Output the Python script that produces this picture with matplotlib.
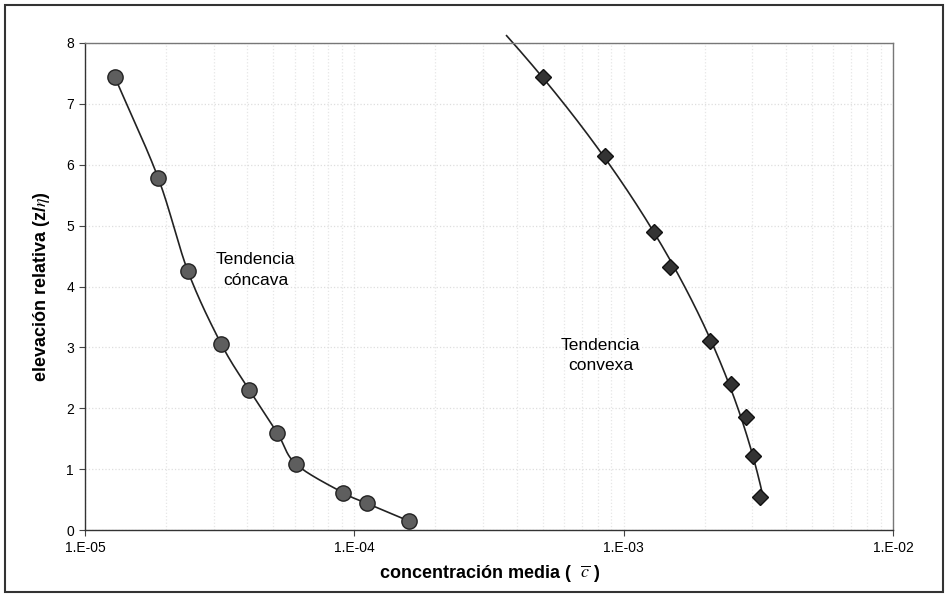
import matplotlib
matplotlib.use("Agg")
import matplotlib.pyplot as plt
import numpy as np
from matplotlib.patches import Rectangle
from matplotlib.ticker import FixedLocator, FuncFormatter, LogLocator, NullFormatter

plt.rcParams['font.family'] = ['Liberation Sans', 'DejaVu Sans']
plt.rcParams['mathtext.fontset'] = 'stix'

# concava series (circles)
c_conc = [1.29e-5, 1.87e-5, 2.41e-5, 3.2e-5, 4.07e-5, 5.18e-5, 6.08e-5, 9.1e-5, 1.11e-4, 1.59e-4]
z_conc = [7.44, 5.78, 4.25, 3.06, 2.30, 1.59, 1.08, 0.61, 0.44, 0.15]
# convexa series (diamonds)
c_conv = [5.0e-4, 8.5e-4, 1.30e-3, 1.48e-3, 2.09e-3, 2.50e-3, 2.84e-3, 3.02e-3, 3.21e-3]
z_conv = [7.44, 6.14, 4.89, 4.32, 3.10, 2.40, 1.86, 1.22, 0.54]

yticks = [0, 1, 2, 3, 4, 5, 6, 7, 8]
xticks = [1e-5, 1e-4, 1e-3, 1e-2]
xlabels = ['1.E-05', '1.E-04', '1.E-03', '1.E-02']


def smooth(cs, zs, n=30):
    # catmull-rom through the points, done in roughly screen-proportional units
    u = np.log10(cs) * 269.0
    v = np.asarray(zs) * 60.9
    P = np.column_stack([u, v])
    P = np.vstack([2 * P[0] - P[1], P, 2 * P[-1] - P[-2]])
    out = []
    t = np.linspace(0, 1, n)[:, None]
    for i in range(1, len(P) - 2):
        p0, p1, p2, p3 = P[i - 1], P[i], P[i + 1], P[i + 2]
        seg = 0.5 * ((2 * p1) + (-p0 + p2) * t + (2 * p0 - 5 * p1 + 4 * p2 - p3) * t ** 2
                     + (-p0 + 3 * p1 - 3 * p2 + p3) * t ** 3)
        out.append(seg)
    out = np.vstack(out)
    return 10 ** (out[:, 0] / 269.0), out[:, 1] / 60.9


fig = plt.figure(figsize=(9.48, 5.97), dpi=100)
ax = fig.add_axes([0.0897, 0.1122, 0.8523, 0.8158])

sx, sy = smooth(c_conc, z_conc)
ax.plot(sx, sy, color='#222222', lw=1.2, zorder=2)

# convex trend: log10(c) as quadratic in z, carried past the top of the plot
pv = np.polyfit(z_conv, np.log10(c_conv), 2)
zz2 = np.linspace(min(z_conv), 8.12, 300)
ax.plot(10 ** np.polyval(pv, zz2), zz2, color='#222222', lw=1.2, zorder=2, clip_on=False)

ax.plot(c_conc, z_conc, 'o', ms=11, mfc='#5e5e5e', mec='#222222', mew=1.0, ls='none', zorder=3)
ax.plot(c_conv, z_conv, 'D', ms=8, mfc='#333333', mec='#111111', mew=1.0, ls='none', zorder=3)

ax.set_xscale('log')
ax.set_xlim(1e-5, 1e-2)
ax.set_ylim(0, 8)
ax.xaxis.set_major_locator(FixedLocator(xticks))
ax.xaxis.set_major_formatter(FuncFormatter(lambda v, p: xlabels[xticks.index(v)] if v in xticks else ''))
ax.xaxis.set_minor_locator(LogLocator(base=10, subs=np.arange(2, 10)))
ax.xaxis.set_minor_formatter(NullFormatter())
ax.set_yticks(yticks)
ax.tick_params(axis='both', which='major', labelsize=10, direction='out', length=4, color='#444444', pad=4)
ax.tick_params(axis='x', which='minor', length=0)

ax.grid(True, which='major', axis='y', ls=':', lw=0.9, color='#dedede')
ax.grid(True, which='both', axis='x', ls=':', lw=0.9, color='#e6e6e6')

for s in ['left', 'bottom']:
    ax.spines[s].set_color('#333333')
    ax.spines[s].set_linewidth(1.0)
for s in ['top', 'right']:
    ax.spines[s].set_color('#777777')
    ax.spines[s].set_linewidth(1.0)

ax.set_ylabel(r'elevación relativa (z/$\eta$)', fontsize=13, fontweight='bold', labelpad=10)
ax.set_xlabel(r'concentración media (  $\overline{c}$ )', fontsize=13, fontweight='bold', labelpad=6)

ax.text(4.3e-5, 4.27, 'Tendencia\ncóncava', fontsize=12.5, ha='center', va='center', linespacing=1.45)
ax.text(8.2e-4, 2.87, 'Tendencia\nconvexa', fontsize=12.5, ha='center', va='center', linespacing=1.45)

fig.patches.append(Rectangle((0.005, 0.008), 0.990, 0.984, transform=fig.transFigure,
                             fill=False, ec='#333333', lw=1.5))

fig.savefig('out.png', dpi=100)
